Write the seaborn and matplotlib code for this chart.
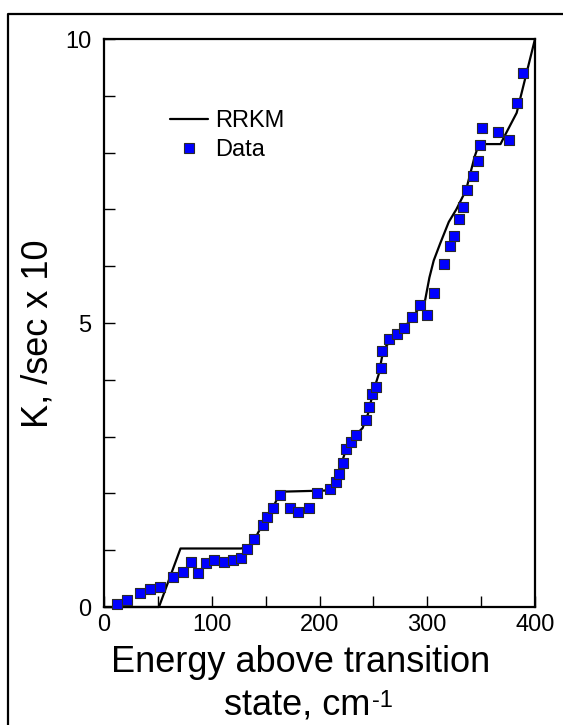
import matplotlib
matplotlib.use("Agg")
import matplotlib.pyplot as plt
from matplotlib.lines import Line2D
import seaborn as sns
import pandas as pd

# RRKM model curve
rrkm_x = [0, 51, 71, 127, 133, 140, 147, 152, 157, 164, 205, 210, 215, 220, 225, 232,
          240, 245, 250, 255, 258, 262, 270, 280, 290, 298, 302, 306, 312, 320, 327,
          336, 344, 348, 368, 372, 383, 400]
rrkm_y = [0, 0, 1.03, 1.03, 1.05, 1.2, 1.45, 1.6, 1.76, 2.03, 2.05, 2.1, 2.25, 2.5, 2.8, 3.0,
          3.15, 3.4, 3.8, 4.1, 4.4, 4.6, 4.75, 4.95, 5.2, 5.4, 5.8, 6.1, 6.4, 6.78, 7.0,
          7.34, 7.93, 8.15, 8.15, 8.3, 8.7, 10.0]

# Experimental data
data_x = [12, 21.6, 33.4, 42.7, 52, 64.3, 73.6, 80.4, 87.5, 94.7, 102.4, 111.4, 120, 126.9,
          133, 139.5, 147.5, 151, 156.6, 163.5, 172.5, 180.5, 190, 198, 209.7, 215.3, 218.4,
          222, 225, 229, 234, 243.2, 246, 248.7, 252.4, 257, 258, 264.5, 272, 278.7, 285.6,
          293, 299.5, 306, 315.3, 320.8, 324.6, 329.2, 332.9, 337.2, 342.2, 347, 349.3,
          350.8, 365.7, 376.2, 383.3, 388.5]
data_y = [0.05, 0.13, 0.25, 0.32, 0.36, 0.53, 0.62, 0.80, 0.59, 0.77, 0.83, 0.80, 0.83, 0.87,
          1.02, 1.20, 1.45, 1.59, 1.75, 1.97, 1.75, 1.67, 1.75, 2.0, 2.07, 2.2, 2.35,
          2.53, 2.78, 2.91, 3.03, 3.29, 3.52, 3.75, 3.87, 4.2, 4.5, 4.71, 4.81, 4.92, 5.11,
          5.32, 5.14, 5.52, 6.04, 6.36, 6.53, 6.83, 7.04, 7.35, 7.58, 7.86, 8.13,
          8.43, 8.36, 8.22, 8.87, 9.41]

x_ticks = [0, 100, 200, 300, 400]
y_ticks = [0, 5, 10]

sns.set_theme(style="white")
plt.rcParams['font.family'] = ['Liberation Sans', 'DejaVu Sans']
for k in ['text.color', 'axes.labelcolor', 'xtick.color', 'ytick.color']:
    plt.rcParams[k] = 'black'

W, H = 563, 725
fig = plt.figure(figsize=(W / 100, H / 100), dpi=100)
ax = fig.add_axes([104 / W, 1 - 607 / H, 431 / W, 568 / H])

df_line = pd.DataFrame({"x": rrkm_x, "y": rrkm_y})
df_pts = pd.DataFrame({"x": data_x, "y": data_y})

sns.lineplot(data=df_line, x="x", y="y", ax=ax, color="black", lw=1.6,
             sort=False, estimator=None, zorder=2, clip_on=False)
sns.scatterplot(data=df_pts, x="x", y="y", ax=ax, marker="s", s=58,
                color="#0000FF", edgecolor="#2a2a2a", linewidth=0.8, zorder=3, clip_on=False)

ax.set_xlim(0, 400)
ax.set_ylim(0, 10)
ax.set_xticks(x_ticks)
ax.set_yticks(y_ticks)
ax.set_xticks(range(0, 401, 50), minor=True)
ax.set_yticks(range(0, 11, 1), minor=True)
ax.tick_params(axis='both', which='both', direction='in', length=8, width=1.0,
               color='black', top=False, right=False, bottom=True, left=True)
ax.tick_params(axis='x', which='major', labelsize=17, pad=5, labelcolor='black')
ax.tick_params(axis='y', which='major', labelsize=17, pad=9, labelcolor='black')
for sp in ax.spines.values():
    sp.set_visible(True)
    sp.set_color("black")
    sp.set_linewidth(1.6)

# axis labels
ax.set_xlabel("")
fig.text(301 / W, 1 - 672 / H, "Energy above transition", fontsize=26,
         ha='center', va='baseline', color='black')
fig.text(370 / W, 1 - 715 / H, "state, cm", fontsize=26,
         ha='right', va='baseline', color='black')
fig.text(372 / W, 1 - 707 / H, "-1", fontsize=17,
         ha='left', va='baseline', color='black')
ax.set_ylabel("K, /sec x 10", fontsize=26, va='center', color='black')
ax.yaxis.set_label_coords((38 - 104) / 431, (607 - 334) / 568)

handles = [Line2D([0], [0], color='black', lw=1.6),
           Line2D([0], [0], marker='s', color='none', markerfacecolor='#0000FF',
                  markeredgecolor='#2a2a2a', markersize=7.5, markeredgewidth=0.8)]
leg = ax.legend(handles, ["RRKM", "Data"], loc='upper left',
                bbox_to_anchor=(170 / W, 1 - 110 / H), bbox_transform=fig.transFigure,
                frameon=False, fontsize=17, handlelength=1.6, handletextpad=0.3,
                labelspacing=0.3, borderaxespad=0, borderpad=0)
for t in leg.get_texts():
    t.set_color('black')

# outer frame (left and top edges visible)
fig.add_artist(Line2D([8 / W, 8 / W, 1.01], [-0.01, 1 - 14 / H, 1 - 14 / H],
                      transform=fig.transFigure, color='black', lw=1.6))

fig.savefig("out.png", dpi=100)
